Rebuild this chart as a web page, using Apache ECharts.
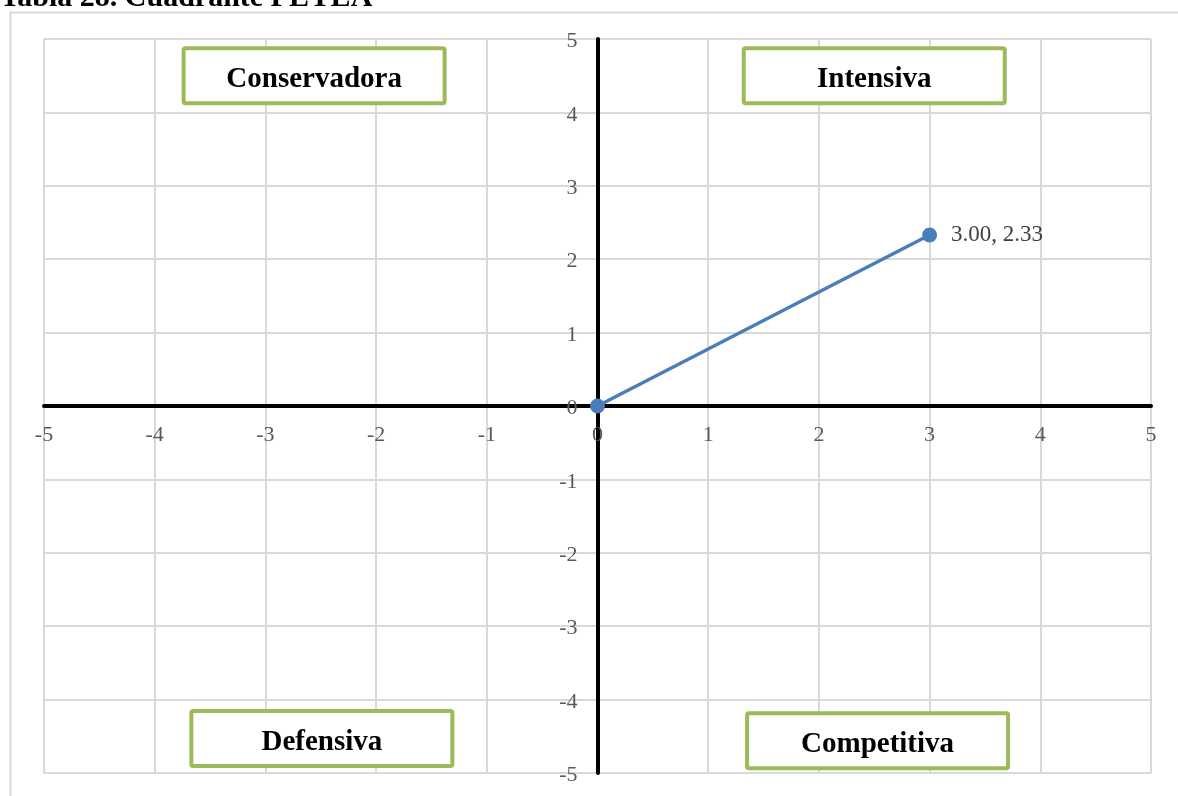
<!DOCTYPE html>
<html>
<head>
<meta charset="utf-8">
<title>Cuadrante PEYEA</title>
<script src="https://cdn.jsdelivr.net/npm/echarts@6/dist/echarts.min.js"></script>
<style>
  html, body { margin: 0; padding: 0; background: #fff; }
  #chart { width: 1178px; height: 796px; }
</style>
</head>
<body>
<div id="chart"></div>
<script>
// PEYEA vector: origin to the (FF/VC, EA/FI) result
const vectorX = [0, 3.00];
const vectorY = [0, 2.33];

// Axis range and tick step
const axisMin = -5;
const axisMax = 5;
const axisStep = 1;

// Quadrant strategy names and where each box sits, in axis units
const quadrantNames = ['Conservadora', 'Intensiva', 'Defensiva', 'Competitiva'];
const quadrantX = [-2.56, 2.50, -2.49, 2.53];
const quadrantY = [4.50, 4.50, -4.53, -4.56];

const titleText = 'Tabla 28. Cuadrante PEYEA';

const serif = '"Liberation Serif", "Times New Roman", serif';
const chart = echarts.init(document.getElementById('chart'), null, { renderer: 'canvas' });

const vectorData = vectorX.map((x, i) => [x, vectorY[i]]);

const axisCommon = {
  type: 'value',
  min: axisMin,
  max: axisMax,
  interval: axisStep,
  axisLine: { show: true, onZero: false, lineStyle: { color: '#000', width: 4 } },
  axisTick: { show: false },
  splitLine: { show: true, lineStyle: { color: '#d9d9d9', width: 2 } },
  axisLabel: { fontFamily: serif, fontSize: 22, color: '#595959' }
};

chart.setOption({
  animation: false,
  backgroundColor: '#fff',
  grid: { left: 44, right: 27, top: 39, bottom: 23, outerBoundsMode: 'none', containLabel: false },
  xAxis: Object.assign({}, axisCommon, {
    position: 'bottom',
    axisLabel: Object.assign({}, axisCommon.axisLabel, { margin: 18 })
  }),
  yAxis: Object.assign({}, axisCommon, {
    position: 'left',
    axisLabel: Object.assign({}, axisCommon.axisLabel, {
      margin: 20,
      verticalAlign: 'middle',
      formatter: '{v|{value}}',
      rich: { v: { fontFamily: serif, fontSize: 22, color: '#595959', padding: [5, 0, 0, 0] } }
    })
  }),
  series: [
    {
      type: 'line',
      data: vectorData,
      symbol: 'circle',
      symbolSize: 15,
      lineStyle: { color: '#4a7ebb', width: 3.5 },
      itemStyle: { color: '#4a7ebb' },
      z: 5,
      label: {
        show: true,
        position: 'right',
        distance: 14,
        fontFamily: serif,
        fontSize: 23,
        color: '#404040',
        formatter: p => p.dataIndex === vectorData.length - 1
          ? p.value[0].toFixed(2) + ', ' + p.value[1].toFixed(2)
          : ''
      }
    }
  ]
});

// Move both axes (line and labels) so they cross at the origin
const origin = chart.convertToPixel({ gridIndex: 0 }, [0, 0]);
const bottomLeft = chart.convertToPixel({ gridIndex: 0 }, [axisMin, axisMin]);

// Framed quadrant name boxes, centred on their axis-unit positions
const boxW = 261, boxH = 55;
const quadrantBoxes = quadrantNames.map((name, i) => {
  const c = chart.convertToPixel({ gridIndex: 0 }, [quadrantX[i], quadrantY[i]]);
  return {
    type: 'group',
    x: c[0],
    y: c[1],
    z: 4,
    silent: true,
    children: [
      {
        type: 'rect',
        shape: { x: -boxW / 2, y: -boxH / 2, width: boxW, height: boxH, r: 2 },
        style: { fill: '#fff', stroke: '#9bbb59', lineWidth: 4 }
      },
      {
        type: 'text',
        x: 0,
        y: 4,
        style: {
          text: name,
          font: 'bold 29px ' + serif,
          fill: '#000',
          align: 'center',
          verticalAlign: 'middle'
        }
      }
    ]
  };
});

chart.setOption({
  xAxis: { offset: -(bottomLeft[1] - origin[1]) },
  yAxis: { offset: -(origin[0] - bottomLeft[0]) },
  graphic: [
    {
      type: 'rect',
      silent: true,
      z: -10,
      shape: { x: 10.5, y: 12.5, width: 1200, height: 820 },
      style: { fill: null, stroke: '#d9d9d9', lineWidth: 2 }
    },
    {
      type: 'text',
      x: 0,
      y: -2,
      style: {
        text: titleText,
        font: 'bold 30px ' + serif,
        fill: '#000',
        verticalAlign: 'middle'
      }
    }
  ].concat(quadrantBoxes)
});
</script>
</body>
</html>
